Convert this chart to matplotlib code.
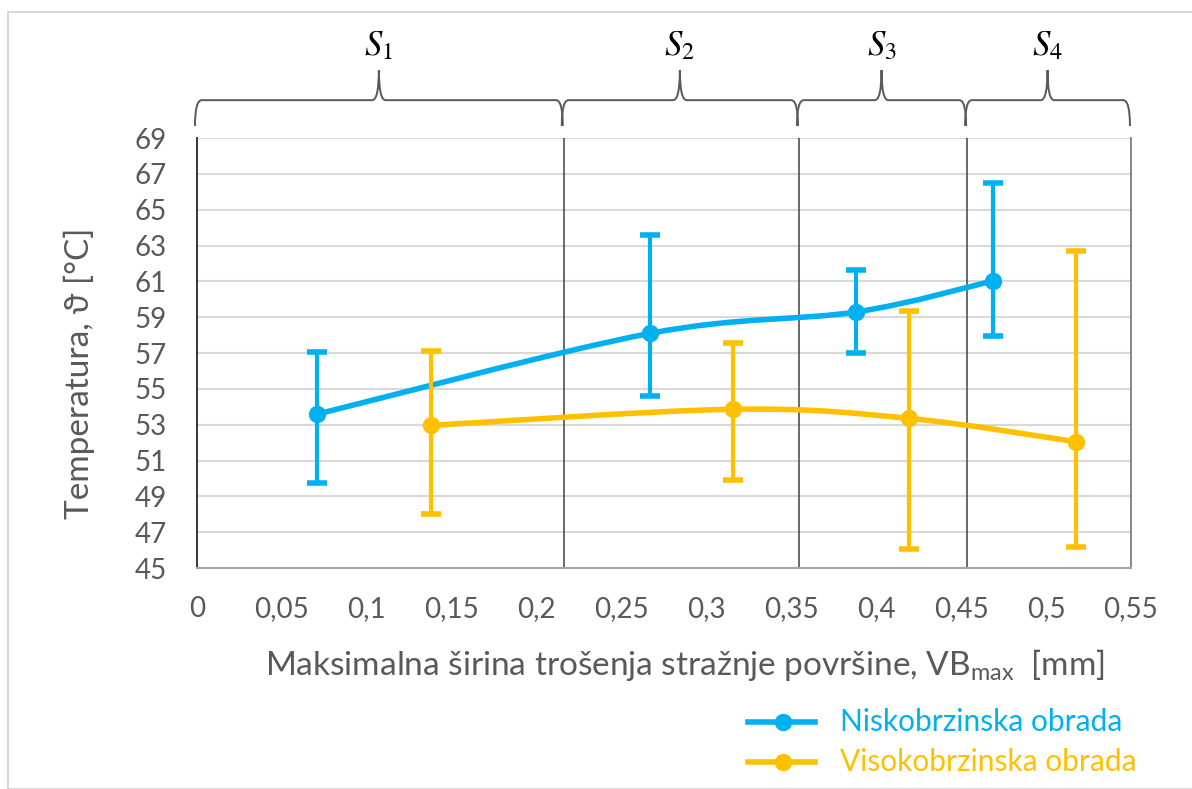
import matplotlib
matplotlib.use('Agg')
import matplotlib.pyplot as plt
from matplotlib.path import Path
from matplotlib.patches import PathPatch, Rectangle
from matplotlib.lines import Line2D
import numpy as np

plt.rcParams['font.family'] = ['Lato', 'DejaVu Sans']

# podaci očitani s grafa
nisko_x = [0.0705, 0.267, 0.388, 0.469]
nisko_y = [53.58, 58.10, 59.29, 61.03]
nisko_gore = [57.07, 63.58, 61.63, 66.47]
nisko_dolje = [49.76, 54.60, 57.00, 57.96]

visoko_x = [0.138, 0.3156, 0.4195, 0.5174]
visoko_y = [52.96, 53.86, 53.35, 52.05]
visoko_gore = [57.10, 57.54, 59.34, 62.70]
visoko_dolje = [48.01, 49.91, 46.04, 46.19]

granice = [0.0, 0.216, 0.3545, 0.4535, 0.55]
oznake = ['$S_1$', '$S_2$', '$S_3$', '$S_4$']

y_ticks = list(range(45, 70, 2))
x_ticks = [0, 0.05, 0.1, 0.15, 0.2, 0.25, 0.3, 0.35, 0.4, 0.45, 0.5, 0.55]
x_labels = ['0', '0,05', '0,1', '0,15', '0,2', '0,25', '0,3', '0,35', '0,4', '0,45', '0,5', '0,55']

PLAVA = '#00B0F0'
NARANCASTA = '#FFC000'
SIVA = '#595959'


def glatka_linija(xs, ys):
    # Bezier krivulja kroz tocke (slicno Excelovoj "smoothed line")
    pts = np.column_stack([xs, ys])
    verts = [pts[0]]
    codes = [Path.MOVETO]
    n = len(pts)
    for i in range(n - 1):
        p0 = pts[max(i - 1, 0)]
        p1 = pts[i]
        p2 = pts[i + 1]
        p3 = pts[min(i + 2, n - 1)]
        c1 = p1 + (p2 - p0) / 6
        c2 = p2 - (p3 - p1) / 6
        verts += [c1, c2, p2]
        codes += [Path.CURVE4] * 3
    return Path(verts, codes)


fig = plt.figure(figsize=(11.92, 7.89), dpi=100)
W, H = 1192, 789
ax = fig.add_axes([197 / W, 1 - 568 / H, 934 / W, 430 / H])

# okvir grafikona
fig.patches.append(Rectangle((8 / W, 0), 1.2, 1 - 12 / H, transform=fig.transFigure,
                             fill=False, edgecolor='#D9D9D9', linewidth=1.5))

ax.set_xlim(0, 0.55)
ax.set_ylim(45, 69)
ax.set_yticks(y_ticks)
ax.set_xticks(x_ticks)
ax.set_xticklabels(x_labels)
ax.tick_params(length=0, labelsize=20, colors=SIVA)
ax.tick_params(axis='y', pad=22)
ax.tick_params(axis='x', pad=20)
ax.grid(axis='y', color='#D9D9D9', linewidth=1.5)
ax.set_axisbelow(True)

ax.spines['top'].set_visible(False)
ax.spines['left'].set_color('#262626')
ax.spines['left'].set_linewidth(1.3)
ax.spines['right'].set_color('#7F7F7F')
ax.spines['right'].set_linewidth(1.3)
ax.spines['bottom'].set_color('#A6A6A6')
ax.spines['bottom'].set_linewidth(1.5)

for g in granice[1:-1]:
    ax.axvline(g, color='#404040', linewidth=1.1, zorder=2)

# krivulje i trake pogreske
for xs, ys, hi, lo, boja in [(nisko_x, nisko_y, nisko_gore, nisko_dolje, PLAVA),
                             (visoko_x, visoko_y, visoko_gore, visoko_dolje, NARANCASTA)]:
    ax.add_patch(PathPatch(glatka_linija(xs, ys), fill=False, edgecolor=boja,
                           linewidth=4, capstyle='round', zorder=4))
    err = [np.array(ys) - np.array(lo), np.array(hi) - np.array(ys)]
    ax.errorbar(xs, ys, yerr=err, fmt='o', color=boja, markersize=11.5,
                elinewidth=3, capsize=7.5, capthick=4, zorder=5)

# viticaste zagrade iznad grafa
tr = ax.get_xaxis_transform()
y_kraj, y_traka, y_vrh = 1.028, 1.088, 1.158
r = 0.004
for a, b, lab in zip(granice[:-1], granice[1:], oznake):
    a = a - 0.0012
    b = b - 0.0006
    m = (a + b) / 2
    verts = [(a, y_kraj), (a, y_traka), (a + r, y_traka),
             (m - r, y_traka), (m, y_traka), (m, y_vrh),
             (m, y_vrh), (m, y_traka), (m + r, y_traka),
             (b - r, y_traka), (b, y_traka), (b, y_kraj)]
    codes = [Path.MOVETO, Path.CURVE3, Path.CURVE3,
             Path.LINETO, Path.CURVE3, Path.CURVE3,
             Path.MOVETO, Path.CURVE3, Path.CURVE3,
             Path.LINETO, Path.CURVE3, Path.CURVE3]
    ax.add_patch(PathPatch(Path(verts, codes), fill=False, edgecolor=SIVA,
                           linewidth=1.4, transform=tr, clip_on=False))
    ax.text(m, 1.215, lab, transform=tr, ha='center', va='center', fontsize=25,
            math_fontfamily='stix', color='black')

# naslovi osi
fig.text(79 / W, 1 - 373 / H, 'Temperatura, ϑ [°C]', rotation=90, ha='center',
         va='center', fontsize=24, color=SIVA)
fig.text(685 / W, 1 - 665 / H,
         'Maksimalna širina trošenja stražnje površine, VB$_{\\mathregular{max}}$  [mm]',
         ha='center', va='center', fontsize=24, color=SIVA)

# legenda
for yy, boja, tekst in [(722, PLAVA, 'Niskobrzinska obrada'),
                        (762, NARANCASTA, 'Visokobrzinska obrada')]:
    fig.add_artist(Line2D([748 / W, 815 / W], [1 - yy / H, 1 - yy / H],
                          transform=fig.transFigure, color=boja, linewidth=4))
    fig.add_artist(Line2D([783 / W], [1 - yy / H], transform=fig.transFigure,
                          color=boja, marker='o', markersize=11.5))
    fig.text(840 / W, 1 - yy / H, tekst, ha='left', va='center', fontsize=21.5,
             color=boja)

fig.savefig('out.png', dpi=100)
